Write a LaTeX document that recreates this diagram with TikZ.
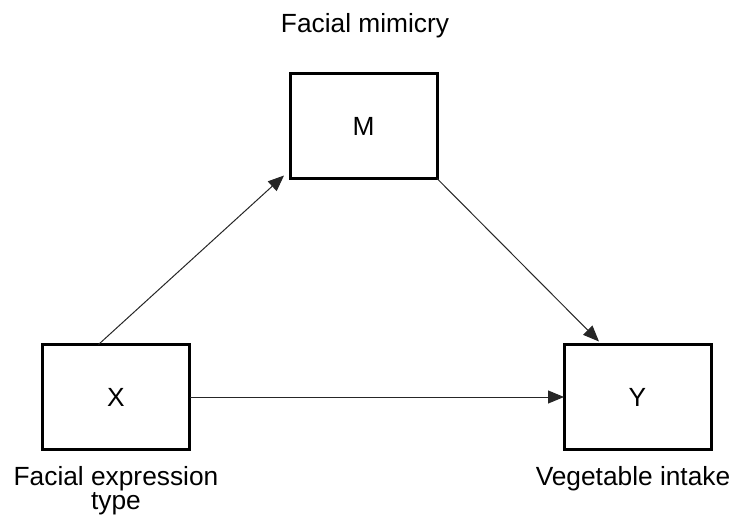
\documentclass[tikz,border=0pt]{standalone}
\usepackage{fontspec}
\setmainfont{Liberation Sans}
\usetikzlibrary{arrows.meta,calc}
\begin{document}
\begin{tikzpicture}[x=1pt,y=-1pt,
  every node/.style={font=\fontsize{26.3}{24}\selectfont},
  varbox/.style={draw, line width=3pt, minimum width=147pt, minimum height=105pt, inner sep=0pt, outer sep=0pt},
  lbl/.style={anchor=base, inner sep=0pt, align=center},
  conn/.style={line width=1pt, black!85, -{Triangle[length=16pt,width=13pt]}}]
\useasboundingbox (0,0) rectangle (736,519);
\node[varbox] (M) at (363.5,126) {M};
\node[varbox] (X) at (116,397) {X};
\node[varbox] (Y) at (637.5,397) {Y};
\node[lbl] (lm) at (365,33) {Facial mimicry};
\node[lbl] (lx) at (116,509) {Facial expression\\type};
\node[lbl] (ly) at (633,485) {Vegetable intake};
\coordinate (xs) at ($(X.north west)+(56,0)$);
\coordinate (me) at ($(M.south west)+(-6,-3)$);
\coordinate (ye) at ($(Y.north west)+(35,-3)$);
\draw[conn] (xs) -- (me);
\draw[conn] (M.south east) -- (ye);
\draw[conn] (X.east) -- (Y.west);
\end{tikzpicture}
\end{document}
